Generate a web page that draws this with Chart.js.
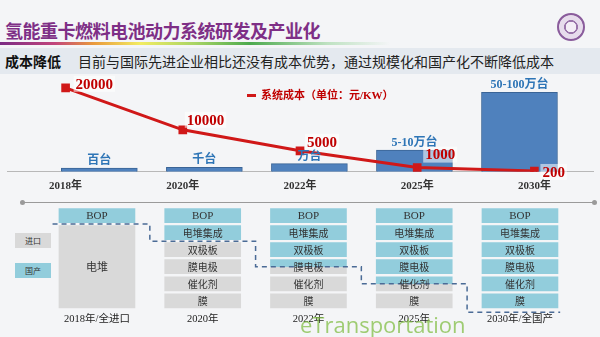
<!DOCTYPE html>
<html>
<head>
<meta charset="utf-8">
<script src="https://cdn.jsdelivr.net/npm/chart.js@4"></script>
<style>
body { margin: 0; width: 600px; height: 337px; overflow: hidden; position: relative;
       background: #f4f5f7; font-family: 'Noto Sans CJK SC', sans-serif; }
#title { position: absolute; left: 5px; top: 19px; font-size: 18px; line-height: 22px; font-weight: bold;
         color: #7e2f86; letter-spacing: -0.5px; }
#rule { position: absolute; left: 0; top: 42px; width: 390px; height: 3px;
        background: linear-gradient(to right, #7b2c84 0%, #c2457c 14%, #ea9a3c 24%, #f2ec62 36%, #a8d465 50%, #4caa4e 64%, #bfe2c2 84%, rgba(255,255,255,0) 100%); }
#logo { position: absolute; left: 557px; top: 13px; width: 24px; height: 24px; border-radius: 50%;
        border: 2px solid #8a5c9c; background: radial-gradient(circle, #f4eef6 0 30%, #9b76ab 32% 40%, #e7dcec 42% 70%, #b79bc4 72%); }
#band { position: absolute; left: 0; top: 48px; width: 600px; height: 26px; background: #e4e9ef; }
#band b { position: absolute; left: 5px; top: 4px; font-size: 14px; line-height: 18px; color: #111; }
#band span { position: absolute; left: 78px; top: 4px; font-size: 14px; line-height: 18px; color: #222; white-space: nowrap; }
#timeline { position: absolute; left: 22px; top: 202px; width: 573px; height: 1px; background: #9a9a9a; }
#timeline:before, #timeline:after { content: ''; position: absolute; top: -2px; width: 5px; height: 5px; border-radius: 50%; background: #9a9a9a; }
#timeline:before { left: -2px; }
#timeline:after { right: -2px; }
.key { position: absolute; left: 15px; width: 36px; height: 15px; font-size: 8px; line-height: 15px; text-align: center; color: #333; }
canvas { position: absolute; left: 0; }
#cost { top: 70px; }
#parts { top: 200px; }
#mark { position: absolute; left: 300px; top: 309px; font-family: 'Open Sans'; font-size: 22px; color: rgba(130, 190, 70, 0.75); }
</style>
</head>
<body>
<div id="title">氢能重卡燃料电池动力系统研发及产业化</div>
<div id="rule"></div>
<div id="logo"></div>
<div id="band"><b>成本降低</b><span>目前与国际先进企业相比还没有成本优势，通过规模化和国产化不断降低成本</span></div>
<div id="timeline"></div>
<div class="key" style="top:233px;background:#d9d9d9">进口</div>
<div class="key" style="top:263px;background:#92cddc">国产</div>
<canvas id="cost" width="600" height="135"></canvas>
<canvas id="parts" width="600" height="137"></canvas>
<div id="mark">eTransportation</div>
<script>
const years = ['2018年', '2020年', '2022年', '2025年', '2030年'];
const costs = [20000, 10000, 5000, 1000, 200];
const volumeText = ['百台', '千台', '万台', '5-10万台', '50-100万台'];
const volume = [4, 5, 9, 24, 88]; // bar height only, not to scale in the slide

const stageLabels = ['2018年/全进口', '2020年', '2022年', '2025年', '2030年/全国产'];
const partNames = ['膜', '催化剂', '膜电极', '双极板', '电堆集成', '电堆', 'BOP'];
const membrane = [0, 1, 1, 1, 1];
const catalyst = [0, 1, 1, 1, 1];
const mea = [0, 1, 1, 1, 1];
const bipolar = [0, 1, 1, 1, 1];
const stackInt = [0, 1, 1, 1, 1];
const stackWhole = [5, 0, 0, 0, 0];
const bop = [1, 1, 1, 1, 1];
// level (in boxes from the bottom) above which parts are domestic
const localFrom = [5, 4, 2.5, 1.5, 0];

const rows = [membrane, catalyst, mea, bipolar, stackInt, stackWhole, bop];
const labelShift = [[10, -4], [4, -10], [7, -9], [8, -13], [8, 1]];
const cyan = '#92cddc', gray = '#d9d9d9', bg = '#f4f5f7';
const serif = "'Liberation Serif', 'Noto Sans CJK SC'";

Chart.defaults.font.family = "'Noto Sans CJK SC', sans-serif";

const costLabels = {
    id: 'costLabels',
    afterDatasetsDraw(chart) {
        const c = chart.ctx;
        c.save();
        c.font = 'bold 12px ' + serif;
        c.fillStyle = '#2e75b6';
        c.textAlign = 'center';
        c.textBaseline = 'bottom';
        chart.getDatasetMeta(1).data.forEach((b, i) => c.fillText(volumeText[i], b.x, b.y - 1));

        c.font = "bold 15px 'Liberation Serif'";
        c.textAlign = 'left';
        c.textBaseline = 'middle';
        chart.getDatasetMeta(0).data.forEach((p, i) => {
            const [dx, dy] = labelShift[i];
            const s = String(costs[i]);
            const w = c.measureText(s).width;
            c.fillStyle = 'rgba(255,255,255,0.55)';
            c.fillRect(p.x + dx - 2, p.y + dy - 8, w + 4, 16);
            c.fillStyle = '#c00000';
            c.fillText(s, p.x + dx, p.y + dy + 1);
        });

        const ds = chart.data.datasets[0];
        c.fillStyle = ds.borderColor;
        c.fillRect(247, 24, 9, 3);
        c.font = 'bold 11px ' + serif;
        c.fillStyle = '#c00000';
        c.fillText(ds.label, 261, 26);
        c.restore();
    }
};

new Chart(document.getElementById('cost'), {
    type: 'bar',
    data: {
        labels: years,
        datasets: [{
            type: 'line',
            label: '系统成本（单位：元/KW）',
            data: costs,
            xAxisID: 'x',
            yAxisID: 'y',
            borderColor: '#d01818',
            backgroundColor: '#d01818',
            borderWidth: 3,
            pointStyle: 'rect',
            pointRadius: 4,
            order: 0
        }, {
            type: 'bar',
            label: '规模',
            data: volume.map((v, i) => ({ x: i, y: v })),
            xAxisID: 'xb',
            yAxisID: 'yb',
            backgroundColor: '#4f81bd',
            borderColor: '#3a6496',
            borderWidth: 1,
            barThickness: 76,
            grouped: false,
            order: 1
        }]
    },
    options: {
        responsive: false,
        animation: false,
        layout: { padding: { left: 4, right: 6, top: 5, bottom: 4 } },
        plugins: { legend: { display: false }, tooltip: { enabled: false } },
        scales: {
            x: {
                type: 'category',
                offset: true,
                grid: { display: false, drawTicks: false },
                border: { color: '#b8b8b8' },
                ticks: { font: { family: serif, size: 11, weight: 'bold' }, color: '#333', padding: 8 }
            },
            xb: { type: 'linear', display: false, offset: false, min: -0.879, max: 4.70 },
            y: { display: false, min: 0, max: 22580 },
            yb: { display: false, min: 0, max: 105 }
        }
    },
    plugins: [costLabels]
});

function boxColor(ctx) {
    if (ctx.type !== 'data') return gray;
    const c = ctx.dataIndex, d = ctx.datasetIndex;
    let lo = 0;
    for (let k = 0; k < d; k++) lo += rows[k][c];
    const hi = lo + rows[d][c];
    const from = localFrom[c];
    if (lo >= from) return cyan;
    if (hi <= from) return gray;
    const y = ctx.chart.scales.y;
    if (!ctx.chart.chartArea || !y) return gray;
    const top = y.getPixelForValue(hi), bottom = y.getPixelForValue(lo), mid = y.getPixelForValue(from);
    const g = ctx.chart.ctx.createLinearGradient(0, top, 0, bottom);
    const t = (mid - top) / (bottom - top);
    g.addColorStop(0, cyan);
    g.addColorStop(t, cyan);
    g.addColorStop(t, gray);
    g.addColorStop(1, gray);
    return g;
}

const partLabels = {
    id: 'partLabels',
    afterDatasetsDraw(chart) {
        const c = chart.ctx;
        c.save();
        c.textAlign = 'center';
        c.textBaseline = 'middle';
        c.fillStyle = '#333';
        partNames.forEach((name, d) => {
            chart.getDatasetMeta(d).data.forEach((el, i) => {
                if (!rows[d][i]) return;
                c.font = name === 'BOP' ? "11px 'Liberation Serif'" : (name === '电堆' ? '11px' : '10px') + " 'Noto Sans CJK SC'";
                c.fillText(name, el.x, (el.y + el.base) / 2 + 0.5);
            });
        });
        c.restore();
    }
};

const dashedPath = [{ x: -0.42, y: localFrom[0] }]
    .concat(localFrom.map((v, i) => ({ x: i, y: v === 0 ? -0.17 : v })))
    .concat([{ x: 4.38, y: -0.17 }]);

new Chart(document.getElementById('parts'), {
    type: 'bar',
    data: {
        datasets: partNames.map((name, k) => ({
            label: name,
            data: rows[k].map((v, i) => ({ x: i, y: v })),
            backgroundColor: boxColor,
            borderColor: bg,
            borderWidth: 1.5,
            borderSkipped: false,
            barThickness: 79,
            order: 1
        })).concat([{
            type: 'line',
            label: '国产化分界',
            data: dashedPath,
            yAxisID: 'yl',
            stepped: 'middle',
            borderColor: '#4a6b96',
            borderWidth: 1.5,
            borderDash: [5, 4],
            pointRadius: 0,
            clip: false,
            order: 0
        }])
    },
    options: {
        responsive: false,
        animation: false,
        layout: { padding: { left: 4, right: 6, top: 7, bottom: 7 } },
        plugins: { legend: { display: false }, tooltip: { enabled: false } },
        scales: {
            x: {
                type: 'linear',
                offset: false,
                min: -0.879,
                max: 4.70,
                stacked: true,
                grid: { display: false, drawTicks: false },
                border: { display: false },
                afterBuildTicks: axis => { axis.ticks = stageLabels.map((_, i) => ({ value: i })); },
                ticks: {
                    callback: v => stageLabels[v],
                    autoSkip: false,
                    maxRotation: 0,
                    font: { family: serif, size: 10.5 },
                    color: '#222',
                    padding: 4
                }
            },
            y: { display: false, stacked: true, min: 0, max: 6 },
            yl: { display: false, min: 0, max: 6 }
        }
    },
    plugins: [partLabels]
});
</script>
</body>
</html>
